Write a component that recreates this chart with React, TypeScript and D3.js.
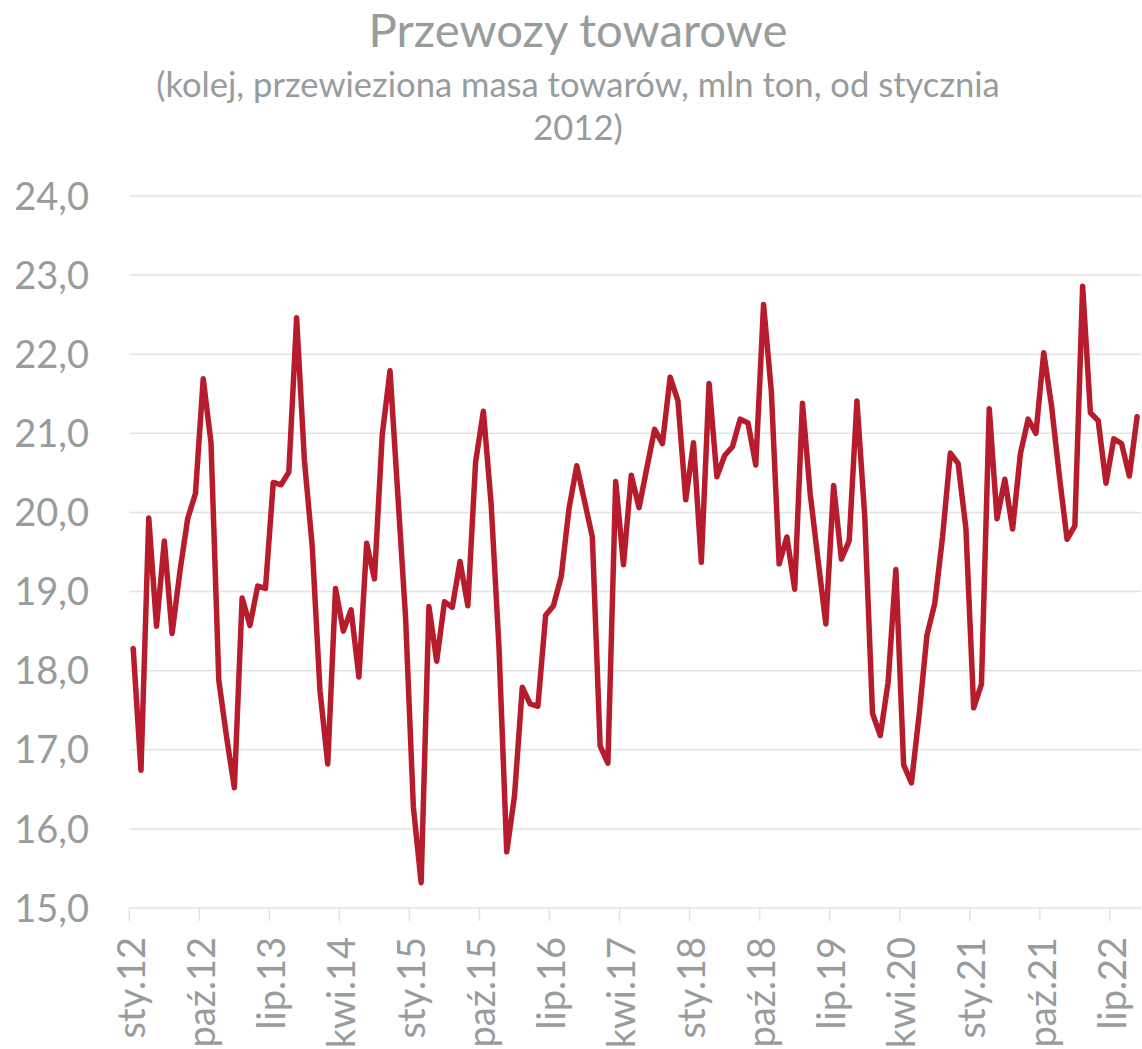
import React from "react";
import * as d3 from "d3";

const title = "Przewozy towarowe";
const subtitleLines = ["(kolej, przewieziona masa towarów, mln ton, od stycznia", "2012)"];

const monthNames = ["sty", "lut", "mar", "kwi", "maj", "cze", "lip", "sie", "wrz", "paź", "lis", "gru"];
const startYear = 12;

const values = [
  18.28, 16.74, 19.93, 18.56, 19.64, 18.47, 19.25, 19.92, 20.24, 21.69, 20.88, 17.88,
  17.16, 16.52, 18.92, 18.57, 19.07, 19.04, 20.38, 20.35, 20.51, 22.46, 20.66, 19.58,
  17.75, 16.82, 19.04, 18.5, 18.77, 17.92, 19.61, 19.16, 20.98, 21.79, 20.23, 18.67,
  16.28, 15.32, 18.81, 18.12, 18.87, 18.8, 19.38, 18.82, 20.64, 21.28, 20.1, 18.3,
  15.71, 16.42, 17.79, 17.58, 17.55, 18.7, 18.82, 19.19, 20.05, 20.59, 20.14, 19.69,
  17.05, 16.83, 20.39, 19.34, 20.47, 20.06, 20.56, 21.05, 20.87, 21.71, 21.41, 20.16,
  20.88, 19.37, 21.63, 20.45, 20.72, 20.83, 21.18, 21.13, 20.6, 22.63, 21.53, 19.35,
  19.69, 19.03, 21.38, 20.23, 19.4, 18.59, 20.34, 19.41, 19.64, 21.41, 19.95, 17.46,
  17.18, 17.85, 19.28, 16.81, 16.58, 17.45, 18.45, 18.85, 19.69, 20.75, 20.62, 19.8,
  17.53, 17.83, 21.31, 19.92, 20.42, 19.79, 20.74, 21.18, 21.0, 22.02, 21.35, 20.47,
  19.66, 19.83, 22.86, 21.26, 21.16, 20.37, 20.93, 20.87, 20.46, 21.21,
];

const categories = values.map((_, i) => {
  const y = startYear + Math.floor(i / 12);
  return `${monthNames[i % 12]}.${String(y).padStart(2, "0")}`;
});

const tickLabels = [
  "sty.12", "paź.12", "lip.13", "kwi.14", "sty.15", "paź.15", "lip.16", "kwi.17",
  "sty.18", "paź.18", "lip.19", "kwi.20", "sty.21", "paź.21", "lip.22",
];

const yTicks = [15, 16, 17, 18, 19, 20, 21, 22, 23, 24];

const W = 1142;
const H = 1049;
const FONT = "Lato, 'Open Sans', sans-serif";
const TEXT = "#979c9d";
const GRID = "#e3e3e3";
const LINE = "#b71c2c";

export default function App() {
  const x = d3.scaleBand<string>().domain(categories).range([129.3, 1141]).padding(0);
  const y = d3.scaleLinear().domain([15, 24]).range([908, 196]);
  const bw = x.bandwidth();
  const line = d3
    .line<number>()
    .x((_, i) => (x(categories[i]) as number) + bw / 2)
    .y((d) => y(d));
  const fmt = (v: number) => d3.format(".1f")(v).replace(".", ",");

  return (
    <svg
      width={W}
      height={H}
      style={{ position: "absolute", left: 0, top: 0, background: "#fff" }}
      fontFamily={FONT}
    >
      <rect x={0} y={0} width={W} height={H} fill="#fff" />
      <text x={578} y={47} textAnchor="middle" fontSize={47.3} fill={TEXT}>
        {title}
      </text>
      {subtitleLines.map((t, i) => (
        <text key={i} x={578} y={97 + i * 43} textAnchor="middle" fontSize={34.6} fill={TEXT}>
          {t}
        </text>
      ))}
      {yTicks.map((t) => (
        <g key={t}>
          {t > 15 && (
            <line x1={129.3} x2={1141} y1={y(t)} y2={y(t)} stroke={GRID} strokeWidth={1.5} />
          )}
          <text x={89} y={y(t)} dy="0.36em" textAnchor="end" fontSize={38} fill={TEXT}>
            {fmt(t)}
          </text>
        </g>
      ))}
      <line x1={129.3} x2={1141} y1={y(15)} y2={y(15)} stroke={GRID} strokeWidth={1.5} />
      {tickLabels.map((lab) => {
        const tx = x(lab) as number;
        return (
          <g key={lab}>
            <line x1={tx} x2={tx} y1={y(15)} y2={y(15) + 13} stroke={GRID} strokeWidth={1.5} />
            <text
              transform={`translate(${tx + 2},937) rotate(-90)`}
              dy="0.36em"
              textAnchor="end"
              fontSize={38}
              fill={TEXT}
            >
              {lab}
            </text>
          </g>
        );
      })}
      <path
        d={line(values) || ""}
        fill="none"
        stroke={LINE}
        strokeWidth={5.5}
        strokeLinejoin="round"
        strokeLinecap="round"
      />
    </svg>
  );
}
